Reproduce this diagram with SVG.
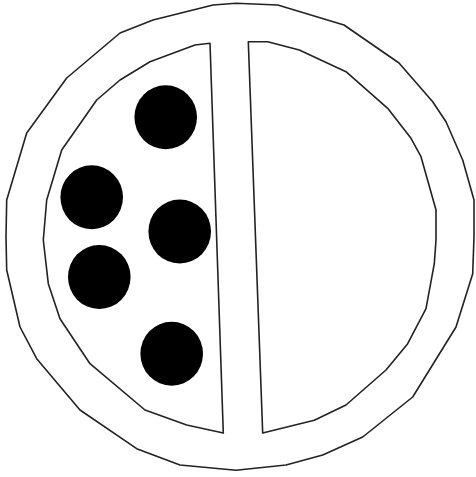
<svg xmlns="http://www.w3.org/2000/svg" width="476" height="477" viewBox="0 0 476 477">
<style>
.shape{fill:#fff;stroke:#222;stroke-width:1.6;stroke-linejoin:round}
.dot{fill:#000}
</style>
<rect width="476" height="477" fill="#fff"/>
<g id="plate">
<polygon class="shape" points="236,3.3 277.7,5 344,25 399,63 432.7,101.7 446,121.7 462.7,160 474,200 474,237 472.7,273.7 456,327 412.7,397 362.7,437 322.7,455 286,465 236,470.3 180,465 136.7,448.7 80,410 36.7,358.7 20,327 6.7,270 6,237 6.7,200 26.7,133 66.7,78 120,33 153,20 213,5"/>
</g>
<g id="left-half">
<polygon class="shape" points="210,43.3 195,45 150,61.7 120,80 96.7,100 61.7,150 46.7,200 43.3,240 48.3,283.7 60,318.7 90,363.7 145,410 186.7,425 223.3,433"/>
</g>
<g id="right-half">
<polygon class="shape" points="248.3,41.7 267.7,41.7 299.3,50 346,71.7 387.7,108.3 411,138.3 421,156.7 436,210 436,240 434.3,263.7 426,308.7 407.7,343.7 386,370 346,405 314.3,420.3 262.7,433"/>
</g>
<g id="dots">
<ellipse class="dot" cx="165.7" cy="117.3" rx="31.3" ry="32"/>
<ellipse class="dot" cx="91.7" cy="197.3" rx="31.3" ry="32"/>
<ellipse class="dot" cx="179.7" cy="231.5" rx="31.3" ry="32"/>
<ellipse class="dot" cx="99.3" cy="277" rx="31.3" ry="32"/>
<ellipse class="dot" cx="171.7" cy="353.7" rx="31.3" ry="32"/>
</g>
</svg>
